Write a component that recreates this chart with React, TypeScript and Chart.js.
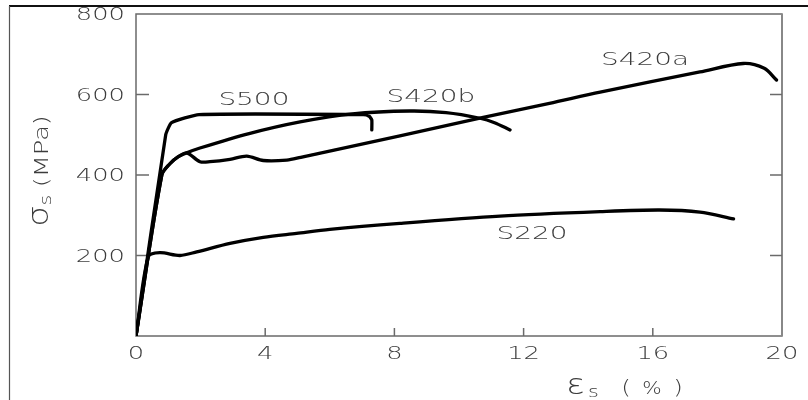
import { useEffect, useRef } from 'react';
import { Chart, registerables } from 'chart.js';
Chart.register(...registerables);

// ---- data (strain %, stress MPa) ----
const s220Strain = [0, 0.38, 0.74, 1.36, 1.88, 2.91, 3.94, 4.97, 6.0, 8.17, 11.27, 14.37, 16.2, 17.46, 18.5];
const s220Stress = [0, 197, 207, 200, 209, 230, 245, 255, 265, 280, 298, 309, 313, 308, 291];

const s420aStrain = [0, 0.8, 1.05, 1.3, 1.57, 1.98, 2.29, 2.91, 3.43, 3.94, 4.67, 5.1, 8.17, 10.75, 12.8, 14.37, 17.46, 18.8, 19.45, 19.83];
const s420aStress = [0, 400, 428, 445, 455, 433, 433, 439, 447, 436, 437, 444, 497, 543, 578, 606, 656, 677, 665, 636];

const s420bStrain = [0, 0.8, 1.05, 1.3, 1.57, 1.98, 3.5, 5.08, 6.7, 8.48, 9.6, 10.65, 11.1, 11.58];
const s420bStress = [0, 400, 428, 445, 455, 467, 503, 532, 552, 559, 555, 541, 530, 512];

const s500Strain = [0, 0.92, 1.1, 1.95, 7.04, 7.22, 7.3, 7.3];
const s500Stress = [0, 500, 530, 550, 550, 546, 537, 512];

const labelTexts = ['S500', 'S420b', 'S420a', 'S220'];
const labelStrain = [3.65, 9.13, 15.76, 12.26];
const labelStress = [586, 594, 686, 253];

const xMin = 0, xMax = 20, xStep = 4;
const yMin = 0, yMax = 800, yStep = 200;

const FONT = '"DejaVu Sans", "Liberation Sans", sans-serif';

function zip(xs: number[], ys: number[]) {
  return xs.map((x, i) => ({ x, y: ys[i] }));
}

function drawText(ctx: CanvasRenderingContext2D, text: string, x: number, y: number, size: number,
  align: CanvasTextAlign, baseline: CanvasTextBaseline, sx: number, color: string, rot = 0) {
  ctx.save();
  ctx.translate(x, y);
  if (rot) ctx.rotate(rot);
  ctx.scale(sx, 1);
  ctx.font = `200 ${size}px ${FONT}`;
  ctx.fillStyle = color;
  ctx.textAlign = align;
  ctx.textBaseline = baseline;
  ctx.fillText(text, 0, 0);
  ctx.restore();
}

function textW(ctx: CanvasRenderingContext2D, text: string, size: number, sx: number) {
  ctx.save();
  ctx.font = `200 ${size}px ${FONT}`;
  const w = ctx.measureText(text).width * sx;
  ctx.restore();
  return w;
}

const framePlugin = {
  id: 'framePlugin',
  beforeDatasetsDraw(chart: any) {
    const { ctx, chartArea } = chart;
    const { left, right, top, bottom } = chartArea;
    const xs = chart.scales.x, ys = chart.scales.y;
    ctx.save();
    // outer picture frame (top and left)
    ctx.strokeStyle = '#111';
    ctx.lineWidth = 2;
    ctx.beginPath(); ctx.moveTo(9, 6); ctx.lineTo(chart.width, 6); ctx.stroke();
    ctx.strokeStyle = '#555';
    ctx.lineWidth = 1.2;
    ctx.beginPath(); ctx.moveTo(9.5, 6); ctx.lineTo(9.5, chart.height); ctx.stroke();

    // plot box
    ctx.strokeStyle = '#6a6a6a';
    ctx.lineWidth = 1.5;
    ctx.strokeRect(left, top, right - left, bottom - top);
    ctx.lineWidth = 2;
    ctx.strokeStyle = '#888';
    ctx.beginPath(); ctx.moveTo(right, top); ctx.lineTo(right, bottom); ctx.stroke();

    // inward ticks
    ctx.strokeStyle = '#6a6a6a';
    ctx.lineWidth = 1.5;
    xs.ticks.forEach((t: any) => {
      if (t.value <= xMin || t.value >= xMax) return;
      const px = xs.getPixelForValue(t.value);
      ctx.beginPath(); ctx.moveTo(px, bottom); ctx.lineTo(px, bottom - 8); ctx.stroke();
    });
    ys.ticks.forEach((t: any) => {
      if (t.value <= yMin || t.value >= yMax) return;
      const py = ys.getPixelForValue(t.value);
      ctx.beginPath(); ctx.moveTo(left, py); ctx.lineTo(left + 13, py); ctx.stroke();
      ctx.beginPath(); ctx.moveTo(right, py); ctx.lineTo(right - 12, py); ctx.stroke();
    });

    // tick labels
    const tc = '#3c3c3c';
    xs.ticks.forEach((t: any) => {
      const px = xs.getPixelForValue(t.value);
      drawText(ctx, String(t.value), px, bottom + 18, 18, 'center', 'middle', 1.43, tc);
    });
    ys.ticks.forEach((t: any) => {
      if (t.value === 0) return;
      const py = ys.getPixelForValue(t.value);
      drawText(ctx, String(t.value), left - 11, py + 1.5, 18, 'right', 'middle', 1.43, tc);
    });
    ctx.restore();
  },
  afterDraw(chart: any) {
    const { ctx } = chart;
    const xs = chart.scales.x, ys = chart.scales.y;
    const tc = '#3c3c3c';
    ctx.save();
    // curve labels
    labelTexts.forEach((txt, i) => {
      const px = xs.getPixelForValue(labelStrain[i]);
      const py = ys.getPixelForValue(labelStress[i]);
      drawText(ctx, txt, px, py, 18, 'center', 'middle', 1.55, tc);
    });

    // x title: εs (%)
    const xb = 394;
    drawText(ctx, 'ε', 566, xb, 28, 'left', 'alphabetic', 1.25, tc);
    drawText(ctx, 's', 588, xb + 3, 16, 'left', 'alphabetic', 1.3, tc);
    drawText(ctx, '(', 626, xb, 19, 'center', 'alphabetic', 1.3, tc);
    drawText(ctx, '%', 652, xb, 17, 'center', 'alphabetic', 1.2, tc);
    drawText(ctx, ')', 678, xb, 19, 'center', 'alphabetic', 1.3, tc);

    // y title: σs (MPa), rotated
    const cx = 48, cy = 171;
    const parts: [string, number, number, number][] = [
      ['σ', 28, 1.2, 0],
      ['s', 16, 1.3, 3],
      [' ', 18, 1.3, 0],
      ['(MPa)', 19, 1.35, 0],
    ];
    const total = parts.reduce((a, p) => a + textW(ctx, p[0], p[1], p[2]), 0);
    let off = -total / 2;
    parts.forEach(([txt, size, sx, dy]) => {
      const w = textW(ctx, txt, size, sx);
      ctx.save();
      ctx.translate(cx, cy);
      ctx.rotate(-Math.PI / 2);
      drawText(ctx, txt, off, dy, size, 'left', 'alphabetic', sx, tc);
      ctx.restore();
      off += w;
    });
    ctx.restore();
  },
};

export default function App() {
  const ref = useRef<HTMLCanvasElement | null>(null);
  useEffect(() => {
    document.body.style.margin = '0';
    const canvas = ref.current;
    if (!canvas) return;
    const mk = (label: string, xs: number[], ys: number[], tension: number) => ({
      label,
      data: zip(xs, ys),
      borderColor: '#000',
      backgroundColor: '#000',
      borderWidth: 3.3,
      pointRadius: 0,
      tension,
      fill: false,
      borderJoinStyle: 'round' as const,
      borderCapStyle: 'round' as const,
    });
    const chart = new Chart(canvas, {
      type: 'line',
      data: {
        datasets: [
          mk('S220', s220Strain, s220Stress, 0.3),
          mk('S420a', s420aStrain, s420aStress, 0.3),
          mk('S420b', s420bStrain, s420bStress, 0.3),
          mk('S500', s500Strain, s500Stress, 0.15),
        ],
      },
      options: {
        animation: false,
        responsive: false,
        maintainAspectRatio: false,
        layout: { padding: { top: 14, right: 26, left: 0, bottom: 0 } },
        plugins: { legend: { display: false }, tooltip: { enabled: false } },
        scales: {
          x: {
            type: 'linear', min: xMin, max: xMax,
            ticks: { stepSize: xStep, display: false },
            grid: { display: false, drawTicks: false },
            border: { display: false },
            afterFit: (s: any) => { s.height = 64; },
          },
          y: {
            type: 'linear', min: yMin, max: yMax,
            ticks: { stepSize: yStep, display: false },
            grid: { display: false, drawTicks: false },
            border: { display: false },
            afterFit: (s: any) => { s.width = 136; },
          },
        },
      },
      plugins: [framePlugin],
    });
    return () => chart.destroy();
  }, []);
  return <canvas ref={ref} width={808} height={400} style={{ display: 'block' }} />;
}
